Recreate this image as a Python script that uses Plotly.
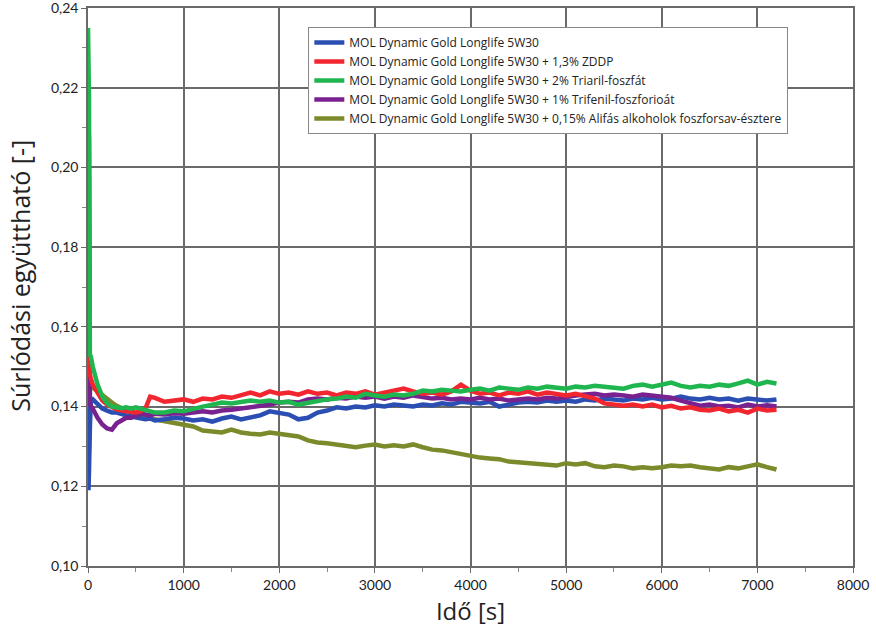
import plotly.graph_objects as go

time_s = [0, 5, 10, 20, 30, 50, 100, 150, 200, 250, 300, 350, 400, 450, 500, 550, 600, 650, 700,
          800, 900, 1000, 1100, 1200, 1300, 1400, 1500, 1600, 1700, 1800, 1900, 2000, 2100, 2200,
          2300, 2400, 2500, 2600, 2700, 2800, 2900, 3000, 3100, 3200, 3300, 3400, 3500, 3600, 3700,
          3800, 3900, 4000, 4100, 4200, 4300, 4400, 4500, 4600, 4700, 4800, 4900, 5000, 5100, 5200,
          5300, 5400, 5500, 5600, 5700, 5800, 5900, 6000, 6100, 6200, 6300, 6400, 6500, 6600, 6700,
          6800, 6900, 7000, 7100, 7200]

base_oil = [0.176, 0.119, 0.1235, 0.135, 0.1415, 0.1418, 0.1405, 0.1395, 0.1390, 0.1385, 0.1385,
            0.1380, 0.1378, 0.1375, 0.1372, 0.1370, 0.1368, 0.1370, 0.1365,
            0.1368, 0.1372, 0.1370, 0.1365, 0.1368, 0.1362, 0.1370, 0.1375, 0.1368, 0.1372, 0.1378,
            0.1388, 0.1385, 0.1380, 0.1368, 0.1372, 0.1385, 0.1390, 0.1398, 0.1395, 0.1400, 0.1398,
            0.1403, 0.1400, 0.1405, 0.1402, 0.1400, 0.1405, 0.1403, 0.1408, 0.1405, 0.1412, 0.1410,
            0.1408, 0.1412, 0.1400, 0.1405, 0.1410, 0.1412, 0.1410, 0.1415, 0.1412, 0.1415, 0.1412,
            0.1418, 0.1415, 0.1420, 0.1418, 0.1415, 0.1420, 0.1418, 0.1422, 0.1418, 0.1420, 0.1425,
            0.1420, 0.1418, 0.1422, 0.1418, 0.1420, 0.1415, 0.1420, 0.1418, 0.1415, 0.1418]

zddp = [0.156, 0.152, 0.150, 0.148, 0.147, 0.1455, 0.1435, 0.1415, 0.1405, 0.1398, 0.1393,
        0.1390, 0.1388, 0.1385, 0.1385, 0.1388, 0.1395, 0.1425, 0.1422,
        0.1412, 0.1415, 0.1418, 0.1412, 0.1420, 0.1418, 0.1425, 0.1422, 0.1428, 0.1435, 0.1428,
        0.1438, 0.1432, 0.1435, 0.1430, 0.1438, 0.1432, 0.1435, 0.1428, 0.1435, 0.1432, 0.1438,
        0.1430, 0.1435, 0.1440, 0.1445, 0.1438, 0.1432, 0.1435, 0.1430, 0.1438, 0.1455, 0.1440,
        0.1432, 0.1435, 0.1428, 0.1435, 0.1432, 0.1438, 0.1430, 0.1435, 0.1432, 0.1428, 0.1432,
        0.1425, 0.1420, 0.1408, 0.1405, 0.1402, 0.1405, 0.1400, 0.1405, 0.1398, 0.1402, 0.1395,
        0.1398, 0.1392, 0.1390, 0.1395, 0.1388, 0.1392, 0.1385, 0.1395, 0.1390, 0.1392]

triaryl = [0.235, 0.228, 0.218, 0.153, 0.1525, 0.150, 0.1455, 0.1425, 0.1408, 0.1400, 0.1398,
           0.1396, 0.1398, 0.1395, 0.1398, 0.1395, 0.1390, 0.1388, 0.1385,
           0.1385, 0.1390, 0.1388, 0.1395, 0.1400, 0.1405, 0.1410, 0.1408, 0.1412, 0.1415, 0.1412,
           0.1415, 0.1410, 0.1412, 0.1405, 0.1410, 0.1415, 0.1418, 0.1420, 0.1425, 0.1422, 0.1432,
           0.1428, 0.1425, 0.1430, 0.1428, 0.1432, 0.1440, 0.1438, 0.1442, 0.1440, 0.1438, 0.1442,
           0.1445, 0.1440, 0.1448, 0.1445, 0.1442, 0.1448, 0.1445, 0.1450, 0.1448, 0.1445, 0.1450,
           0.1448, 0.1452, 0.1450, 0.1448, 0.1445, 0.1452, 0.1455, 0.1450, 0.1455, 0.1460, 0.1452,
           0.1448, 0.1452, 0.1450, 0.1455, 0.1452, 0.1458, 0.1465, 0.1455, 0.1462, 0.1458]

triphenyl = [0.215, 0.210, 0.207, 0.1405, 0.1400, 0.1395, 0.1372, 0.1355, 0.1345, 0.1342, 0.1358,
             0.1365, 0.1372, 0.1372, 0.1378, 0.1382, 0.1380, 0.1378, 0.1382,
             0.1380, 0.1383, 0.1382, 0.1385, 0.1388, 0.1385, 0.1390, 0.1392, 0.1395, 0.1398, 0.1400,
             0.1405, 0.1410, 0.1412, 0.1410, 0.1418, 0.1420, 0.1418, 0.1422, 0.1420, 0.1425, 0.1422,
             0.1425, 0.1420, 0.1425, 0.1422, 0.1428, 0.1425, 0.1420, 0.1422, 0.1418, 0.1420, 0.1418,
             0.1422, 0.1418, 0.1420, 0.1415, 0.1418, 0.1420, 0.1418, 0.1422, 0.1420, 0.1425, 0.1428,
             0.1430, 0.1432, 0.1428, 0.1430, 0.1428, 0.1425, 0.1430, 0.1428, 0.1425, 0.1422, 0.1415,
             0.1408, 0.1402, 0.1405, 0.1400, 0.1402, 0.1398, 0.1405, 0.1400, 0.1403, 0.1400]

aliphatic = [0.205, 0.125, 0.130, 0.1445, 0.1452, 0.1448, 0.1438, 0.1428, 0.1418, 0.1410, 0.1402,
             0.1395, 0.1390, 0.1385, 0.1380, 0.1375, 0.1372, 0.1370, 0.1368,
             0.1362, 0.1358, 0.1355, 0.1350, 0.1340, 0.1338, 0.1335, 0.1342, 0.1335, 0.1332, 0.1330,
             0.1335, 0.1332, 0.1330, 0.1325, 0.1315, 0.1310, 0.1308, 0.1305, 0.1302, 0.1298, 0.1302,
             0.1305, 0.1300, 0.1303, 0.1300, 0.1305, 0.1298, 0.1292, 0.1290, 0.1285, 0.1280, 0.1275,
             0.1272, 0.1270, 0.1268, 0.1262, 0.1260, 0.1258, 0.1255, 0.1255, 0.1252, 0.1258, 0.1255,
             0.1258, 0.1250, 0.1248, 0.1252, 0.1250, 0.1245, 0.1248, 0.1245, 0.1248, 0.1252, 0.1250,
             0.1252, 0.1248, 0.1245, 0.1242, 0.1248, 0.1245, 0.1250, 0.1255, 0.1248, 0.1242]

series_names = [
    "MOL Dynamic Gold Longlife 5W30",
    "MOL Dynamic Gold Longlife 5W30 + 1,3% ZDDP",
    "MOL Dynamic Gold Longlife 5W30 + 2% Triaril-foszfát",
    "MOL Dynamic Gold Longlife 5W30 + 1% Trifenil-foszforioát",
    "MOL Dynamic Gold Longlife 5W30 + 0,15% Alifás alkoholok foszforsav-észtere",
]
series_values = [base_oil, zddp, triaryl, triphenyl, aliphatic]
series_colors = ["#2b4eb3", "#f2262e", "#1fb54f", "#7a2190", "#7c8a2b"]

y_tick_values = [0.10, 0.12, 0.14, 0.16, 0.18, 0.20, 0.22, 0.24]
y_tick_labels = ["0,10", "0,12", "0,14", "0,16", "0,18", "0,20", "0,22", "0,24"]
x_tick_values = [0, 1000, 2000, 3000, 4000, 5000, 6000, 7000, 8000]
x_tick_labels = ["0", "1000", "2000", "3000", "4000", "5000", "6000", "7000", "8000"]

TICK_FONT = "Liberation Sans Narrow, Lato, sans-serif"
TEXT_FONT = "Open Sans, Lato, sans-serif"

fig = go.Figure()
order = [4, 0, 3, 1, 2]
for i in order:
    fig.add_trace(go.Scatter(
        x=time_s, y=series_values[i], mode="lines", name=series_names[i],
        line=dict(color=series_colors[i], width=4.5), legendrank=i + 1,
    ))

fig.update_layout(
    width=876, height=627,
    margin=dict(l=88, r=23, t=8, b=61),
    paper_bgcolor="white", plot_bgcolor="white",
    font=dict(family=TEXT_FONT, color="#222"),
    showlegend=True,
    legend=dict(
        x=0.288, y=0.966, xanchor="left", yanchor="top",
        bgcolor="white", bordercolor="#888", borderwidth=1,
        font=dict(size=12, family=TEXT_FONT, color="#222"),
        tracegroupgap=0, itemwidth=30,
    ),
    annotations=[dict(
        text="Súrlódási együttható [-]", textangle=-90,
        xref="paper", yref="paper", x=-0.089, y=0.52,
        xanchor="center", yanchor="middle", showarrow=False,
        font=dict(size=25, family=TEXT_FONT, color="#222"),
    )],
)
fig.update_xaxes(
    range=[0, 8000], tickmode="array", tickvals=x_tick_values, ticktext=x_tick_labels,
    automargin=False, ticklabeloverflow="allow",
    showgrid=True, gridcolor="#6a6a6a", gridwidth=1.5,
    showline=True, linecolor="#6a6a6a", linewidth=1.5, mirror=True,
    ticks="outside", ticklen=5, tickcolor="#6a6a6a",
    minor=dict(dtick=500, ticks="outside", ticklen=4, tickcolor="#888", showgrid=False),
    tickfont=dict(size=14, family=TICK_FONT, color="#222"),
    title=dict(text="Idő [s]", font=dict(size=24, family=TEXT_FONT, color="#222")),
    zeroline=False,
)
fig.update_yaxes(
    range=[0.10, 0.24], tickmode="array", tickvals=y_tick_values, ticktext=y_tick_labels,
    automargin=False, ticklabeloverflow="allow",
    showgrid=True, gridcolor="#6a6a6a", gridwidth=1.5,
    showline=True, linecolor="#6a6a6a", linewidth=1.5, mirror=True,
    ticks="outside", ticklen=5, tickcolor="#6a6a6a",
    minor=dict(dtick=0.01, ticks="outside", ticklen=4, tickcolor="#888", showgrid=False),
    tickfont=dict(size=14, family=TICK_FONT, color="#222"),
    zeroline=False,
)

fig.write_html("out.html", config={"displayModeBar": False},
               post_script="document.body.style.margin='0';")
